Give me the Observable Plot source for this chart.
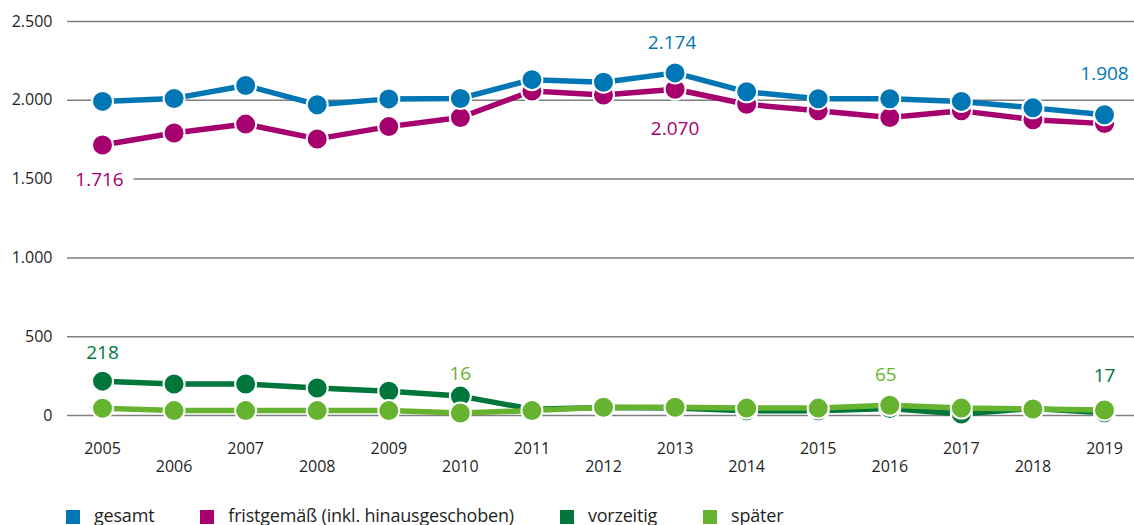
<!DOCTYPE html>
<html>
<head>
<meta charset="utf-8">
<script src="https://cdn.jsdelivr.net/npm/d3@7"></script>
<script src="https://cdn.jsdelivr.net/npm/@observablehq/plot@0.6"></script>
<style>
  body { margin: 0; background: #fff; font-family: "Open Sans", sans-serif; color: #1f1f1f; }
  #legend { display: flex; gap: 46px; padding-left: 66px; height: 19px; font-size: 18px; line-height: 18px; letter-spacing: -0.2px; }
  .item { display: flex; align-items: flex-start; white-space: nowrap; }
  .sw { width: 14px; height: 14px; margin-top: 4px; margin-right: 14px; }
</style>
</head>
<body>
<div id="chart"></div>
<div id="legend"></div>
<script>
// ---- data ----
const years = [2005, 2006, 2007, 2008, 2009, 2010, 2011, 2012, 2013, 2014, 2015, 2016, 2017, 2018, 2019];
const seriesNames = ["gesamt", "fristgemäß (inkl. hinausgeschoben)", "vorzeitig", "später"];
const gesamt     = [1993, 2012, 2094, 1972, 2009, 2012, 2131, 2115, 2174, 2054, 2010, 2010, 1993, 1952, 1908];
const fristgemaess = [1716, 1793, 1849, 1755, 1833, 1891, 2059, 2034, 2070, 1975, 1933, 1891, 1933, 1877, 1852];
const vorzeitig  = [218, 200, 200, 175, 154, 123, 40, 50, 48, 30, 30, 45, 10, 45, 17];
const spaeter    = [46, 31, 31, 31, 31, 16, 31, 52, 52, 47, 47, 65, 47, 41, 35];
const yTicks = [0, 500, 1000, 1500, 2000, 2500];
const xTicksUpper = [2005, 2007, 2009, 2011, 2013, 2015, 2017, 2019];
const xTicksLower = [2006, 2008, 2010, 2012, 2014, 2016, 2018];
const gesamtLabels = [2013, 2019];
const fristLabels = [2005, 2013];
const vorzeitigLabels = [2005, 2019];
const spaeterLabels = [2010, 2016];

// ---- build ----
const fmt = d3.formatLocale({decimal: ",", thousands: ".", grouping: [3], currency: ["", " €"]}).format(",d");
const colors = ["#0076b5", "#a6006f", "#00773a", "#65b32e"];
const valuesBySeries = [gesamt, fristgemaess, vorzeitig, spaeter];
const labelYearsBySeries = [gesamtLabels, fristLabels, vorzeitigLabels, spaeterLabels];
const series = seriesNames.map((name, i) => ({
  name, color: colors[i],
  data: years.map((year, j) => ({year, value: valuesBySeries[i][j]})),
  labels: labelYearsBySeries[i]
}));
// label offsets (style)
const labelDy = {"0-2013": -30, "0-2019": -41, "1-2005": 35, "1-2013": 40, "2-2005": -28, "2-2019": -37, "3-2010": -39, "3-2016": -30};
const labelDx = {"1-2005": -3, "0-2013": -3, "3-2016": -4};
const knockout = {"1-2005": 22};

const labelRows = [];
series.forEach((s, i) => s.labels.forEach(y => {
  const d = s.data.find(e => e.year === y);
  const k = `${i}-${y}`;
  labelRows.push({year: y, value: d.value, color: s.color, dy: labelDy[k] ?? -30, dx: labelDx[k] ?? 0, sw: knockout[k] ?? 0});
}));

const drawOrder = [1, 0, 2, 3];
const dataMarks = [];
for (const i of drawOrder) {
  const s = series[i];
  dataMarks.push(Plot.line(s.data, {x: "year", y: "value", stroke: s.color, strokeWidth: 5.5}));
  dataMarks.push(Plot.dot(s.data, {x: "year", y: "value", r: 10.5, fill: s.color, stroke: "white", strokeWidth: 2}));
}

const labelMarks = labelRows.map(r => Plot.text([r], {
  x: "year", y: "value", text: d => fmt(d.value), fill: r.color, dy: r.dy, dx: r.dx,
  fontSize: 19, stroke: r.sw ? "white" : "none", strokeWidth: r.sw || 1, textAnchor: "middle", lineAnchor: "middle"
}));

const chart = Plot.plot({
  width: 1134, height: 506,
  marginLeft: 102, marginRight: 30, marginTop: 21, marginBottom: 91,
  style: {fontFamily: "Open Sans, sans-serif", fontSize: "16px", color: "#1f1f1f", background: "white"},
  x: {domain: [2005, 2019], label: null},
  y: {domain: [0, 2500], label: null},
  marks: [
    Plot.ruleY(yTicks, {stroke: "#7f7f7f", strokeWidth: 1.5, insetLeft: -35, insetRight: -30}),
    Plot.axisY({ticks: yTicks, tickSize: 0, tickPadding: 50, tickFormat: fmt, label: null, fontSize: 16}),
    Plot.axisX({ticks: xTicksUpper, tickSize: 0, tickPadding: 27, tickFormat: d => String(d), label: null, fontSize: 16}),
    Plot.axisX({ticks: xTicksLower, tickSize: 0, tickPadding: 45, tickFormat: d => String(d), label: null, fontSize: 16}),
    ...labelMarks,
    ...dataMarks
  ]
});
document.getElementById("chart").appendChild(chart);

const legend = document.getElementById("legend");
series.forEach(s => {
  const item = document.createElement("div");
  item.className = "item";
  const sw = document.createElement("span");
  sw.className = "sw";
  sw.style.background = s.color;
  const t = document.createElement("span");
  t.textContent = s.name;
  item.append(sw, t);
  legend.appendChild(item);
});
</script>
</body>
</html>
